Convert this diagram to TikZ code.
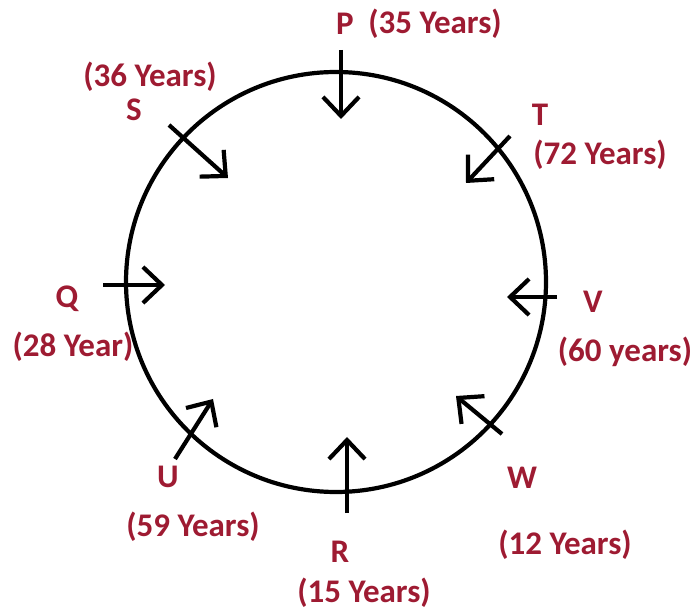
\documentclass[tikz,border=0pt]{standalone}
\usepackage{fontspec}
\setmainfont{Carlito}
\usepackage{tikz}
\usetikzlibrary{arrows.meta, positioning, calc}
\definecolor{LabelRed}{RGB}{158,27,50}

\begin{document}
\begin{tikzpicture}[x=1pt,y=-1pt,
        lbl/.style={text=LabelRed,font=\bfseries\fontsize{33}{34}\selectfont,
                    inner sep=0pt,anchor=center},
        arr/.style={-{Straight Barb[length=19pt,width=36pt]},line width=4.2pt,black},
        ring/.style={draw,line width=4.2pt,circle,minimum size=420pt,inner sep=0pt}
      ]
        \useasboundingbox (0,0) rectangle (694,612);
        \node[ring] (ring) at (336,282) {};
        % seat arrows, outside -> inside
        \coordinate (pA) at (341,50);   \coordinate (pB) at (341,119);
        \coordinate (tA) at (510,136);  \coordinate (tB) at (466,183);
        \coordinate (vA) at (557,297);  \coordinate (vB) at (507,297);
        \coordinate (wA) at (502,434);  \coordinate (wB) at (456,396);
        \coordinate (rA) at (347,513);  \coordinate (rB) at (347,437);
        \coordinate (uA) at (175,459);  \coordinate (uB) at (213,399);
        \coordinate (qA) at (103,285);  \coordinate (qB) at (165,285);
        \coordinate (sA) at (169,125);  \coordinate (sB) at (228,178);
        \foreach \s in {p,t,v,w,r,u,q,s}
          \draw[arr] (\s A) -- (\s B);
        % names and ages
        \node[lbl] (P)  at (345,24)  {P};
        \node[lbl] (Py) at (435,24)  {(35 Years)};
        \node[lbl] (Sy) at (150,77)  {(36 Years)};
        \node[lbl] (S)  at (134,110) {S};
        \node[lbl] (T)  at (540,115) {T};
        \node[lbl] (Ty) at (600,155) {(72 Years)};
        \node[lbl] (Q)  at (67,299)  {Q};
        \node[lbl] (Qy) at (73,347)  {(28 Year)};
        \node[lbl] (V)  at (593,302) {V};
        \node[lbl] (Vy) at (625,352) {(60 years)};
        \node[lbl] (W)  at (522,478) {W};
        \node[lbl] (Wy) at (565,545) {(12 Years)};
        \node[lbl] (U)  at (168,477) {U};
        \node[lbl] (Uy) at (193,527) {(59 Years)};
        \node[lbl] (R)  at (340,552) {R};
        \node[lbl] (Ry) at (364,593) {(15 Years)};
      \end{tikzpicture}
\end{document}
